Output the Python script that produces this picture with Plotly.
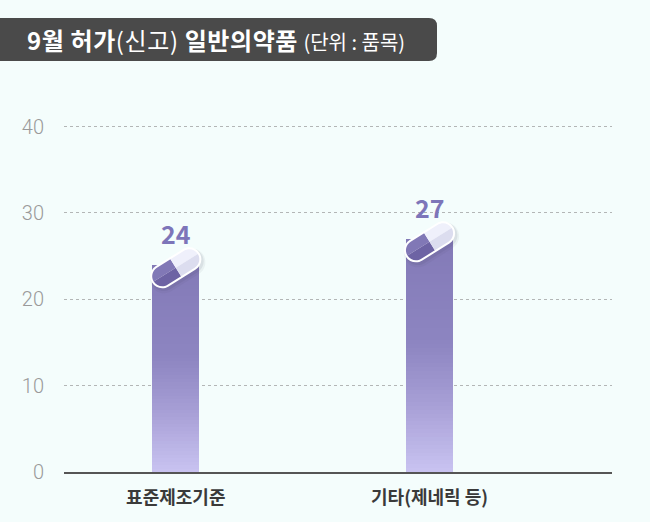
import math
import plotly.graph_objects as go

# ---- data ----
categories = ["표준제조기준", "기타(제네릭 등)"]
values = [24, 27]
y_ticks = [0, 10, 20, 30, 40]
title_bold_1 = "9월 허가"
title_light = "(신고)"
title_bold_2 = "일반의약품"
title_unit = "(단위 : 품목)"

# ---- style ----
BG = "#f4fdfc"
W, H = 650, 522
ML, MR, MT, MB = 64, 38, 92, 50
N_SEG = 60

def lerp_color(stops, f):
    for i in range(len(stops) - 1):
        f0, c0 = stops[i]
        f1, c1 = stops[i + 1]
        if f0 <= f <= f1:
            t = 0 if f1 == f0 else (f - f0) / (f1 - f0)
            a = [int(c0[j:j + 2], 16) for j in (1, 3, 5)]
            b = [int(c1[j:j + 2], 16) for j in (1, 3, 5)]
            return "rgb(%d,%d,%d)" % tuple(round(a[k] + (b[k] - a[k]) * t) for k in range(3))
    return stops[-1][1]

grad_stops = [(0.0, "#c9c3f1"), (0.3, "#a69ed5"), (0.55, "#8d85c1"), (1.0, "#837ab7")]

xs, ys, bases, cols = [], [], [], []
for c, v in zip(categories, values):
    step = v / N_SEG
    for i in range(N_SEG):
        xs.append(c)
        ys.append(step * (1.02 if i < N_SEG - 1 else 1.0))
        bases.append(step * i)
        cols.append(lerp_color(grad_stops, (i + 0.5) / N_SEG))

fig = go.Figure()
fig.add_trace(go.Bar(
    x=xs, y=ys, base=bases, width=0.184,
    marker=dict(color=cols, line=dict(width=0)),
    hoverinfo="skip", showlegend=False,
))

# ---- pill (capsule) paths in pixel space ----
THETA = math.radians(32)
dx, dy = math.cos(THETA), math.sin(THETA)
nx, ny = -math.sin(THETA), math.cos(THETA)
K = 0.5523
PILL_DY = -3  # pill centre relative to bar top (pixels, up positive)

def tp(u, v, ox=0.0, oy=0.0):
    x = u * dx + v * nx + ox
    y = u * dy + v * ny + oy + PILL_DY
    return "%.2f,%.2f" % (x, y)

def capsule(L, r, ox=0.0, oy=0.0):
    a = L / 2 - r
    p = "M%s L%s " % (tp(a, r, ox, oy), tp(-a, r, ox, oy))
    p += "C%s %s %s " % (tp(-a - K * r, r, ox, oy), tp(-a - r, K * r, ox, oy), tp(-a - r, 0, ox, oy))
    p += "C%s %s %s " % (tp(-a - r, -K * r, ox, oy), tp(-a - K * r, -r, ox, oy), tp(-a, -r, ox, oy))
    p += "L%s " % tp(a, -r, ox, oy)
    p += "C%s %s %s " % (tp(a + K * r, -r, ox, oy), tp(a + r, -K * r, ox, oy), tp(a + r, 0, ox, oy))
    p += "C%s %s %s Z" % (tp(a + r, K * r, ox, oy), tp(a + K * r, r, ox, oy), tp(a, r, ox, oy))
    return p

def quarter(L, r, side, upper):
    a = L / 2 - r
    s = side  # -1 left, +1 right
    vv = r if upper else -r
    sg = 1 if upper else -1
    p = "M%s L%s L%s " % (tp(0, 0), tp(0, vv), tp(s * a, vv))
    p += "C%s %s %s Z" % (tp(s * (a + K * r), vv), tp(s * (a + r), sg * K * r), tp(s * (a + r), 0))
    return p

pill_parts = []
Lo, ro = 56, 12
Li, ri = 52, 10
pill_parts.append((capsule(Lo + 4, ro + 2, 2, -3), "rgba(60,60,90,0.06)"))
pill_parts.append((capsule(Lo + 1.5, ro + 0.8, 1.5, -2), "rgba(60,60,90,0.09)"))
pill_parts.append((capsule(Lo, ro), "#ffffff"))
pill_parts.append((quarter(Li, ri, -1, True), "#8178b6"))
pill_parts.append((quarter(Li, ri, -1, False), "#6d63a4"))
pill_parts.append((quarter(Li, ri, 1, True), "#eff0fb"))
pill_parts.append((quarter(Li, ri, 1, False), "#dcddef"))

shapes = []
for c, v in zip(categories, values):
    for path, col in pill_parts:
        shapes.append(dict(
            type="path", xref="x", yref="y",
            xsizemode="pixel", ysizemode="pixel",
            xanchor=c, yanchor=v, path=path,
            fillcolor=col, line=dict(width=0), layer="above",
        ))

# title box (pixel positions relative to plot top-left)
rad = 8
bx0, bx1 = -ML - 6, 437 - ML
by_top, by_bot = MT - 18, MT - 61
box_path = ("M%d,%d L%d,%d Q%d,%d %d,%d L%d,%d Q%d,%d %d,%d L%d,%d Z" % (
    bx0, by_top, bx1 - rad, by_top, bx1, by_top, bx1, by_top - rad,
    bx1, by_bot + rad, bx1, by_bot, bx1 - rad, by_bot, bx0, by_bot))
shapes.append(dict(
    type="path", xref="paper", yref="paper", xsizemode="pixel", ysizemode="pixel",
    xanchor=0, yanchor=1, path=box_path, fillcolor="#4a4a4a", line=dict(width=0), layer="above",
))

annotations = []
for c, v in zip(categories, values):
    annotations.append(dict(
        x=c, y=v, xref="x", yref="y", text="<b>%d</b>" % v, showarrow=False,
        yanchor="middle", xanchor="center", yshift=PILL_DY + 34.5,
        font=dict(family="Noto Sans CJK KR", size=25, color="#7d75b9"),
    ))

annotations.append(dict(
    x=0, y=1, xref="paper", yref="paper", xanchor="left", yanchor="middle",
    xshift=25 - ML, yshift=MT - 39.5, showarrow=False,
    text=("<span style='letter-spacing:0.6px'><b>%s</b>%s <b>%s</b></span> "
          "<span style='font-size:20px'>%s</span>") % (title_bold_1, title_light, title_bold_2, title_unit),
    font=dict(family="Noto Sans CJK KR", size=24, color="#ffffff"),
))

fig.update_layout(
    width=W, height=H,
    margin=dict(l=ML, r=MR, t=MT, b=MB, pad=0),
    paper_bgcolor=BG, plot_bgcolor=BG,
    barmode="overlay", bargap=0,
    shapes=shapes, annotations=annotations,
    showlegend=False,
    xaxis=dict(
        type="category", categoryorder="array", categoryarray=categories,
        range=[-0.4405, 1.719], showgrid=False, zeroline=False,
        showline=True, linecolor="#555555", linewidth=1.5,
        ticks="outside", ticklen=9, tickcolor="rgba(0,0,0,0)",
        tickfont=dict(family="Noto Sans CJK KR", size=18, color="#3a3a3a", weight="bold"),
        fixedrange=True,
    ),
    yaxis=dict(
        range=[0, 44], tickvals=y_ticks, ticktext=[str(t) for t in y_ticks],
        showgrid=True, gridcolor="#b3b6b6", griddash="dot", gridwidth=1,
        zeroline=False, showline=False,
        ticks="outside", ticklen=15, tickcolor="rgba(0,0,0,0)",
        tickfont=dict(family="Roboto", size=20, color="#9a9a9a", weight=300),
        fixedrange=True,
    ),
)

fig.write_html("out.html", config={"displayModeBar": False},
               post_script="document.body.style.margin='0';document.body.style.background='%s';" % BG)
